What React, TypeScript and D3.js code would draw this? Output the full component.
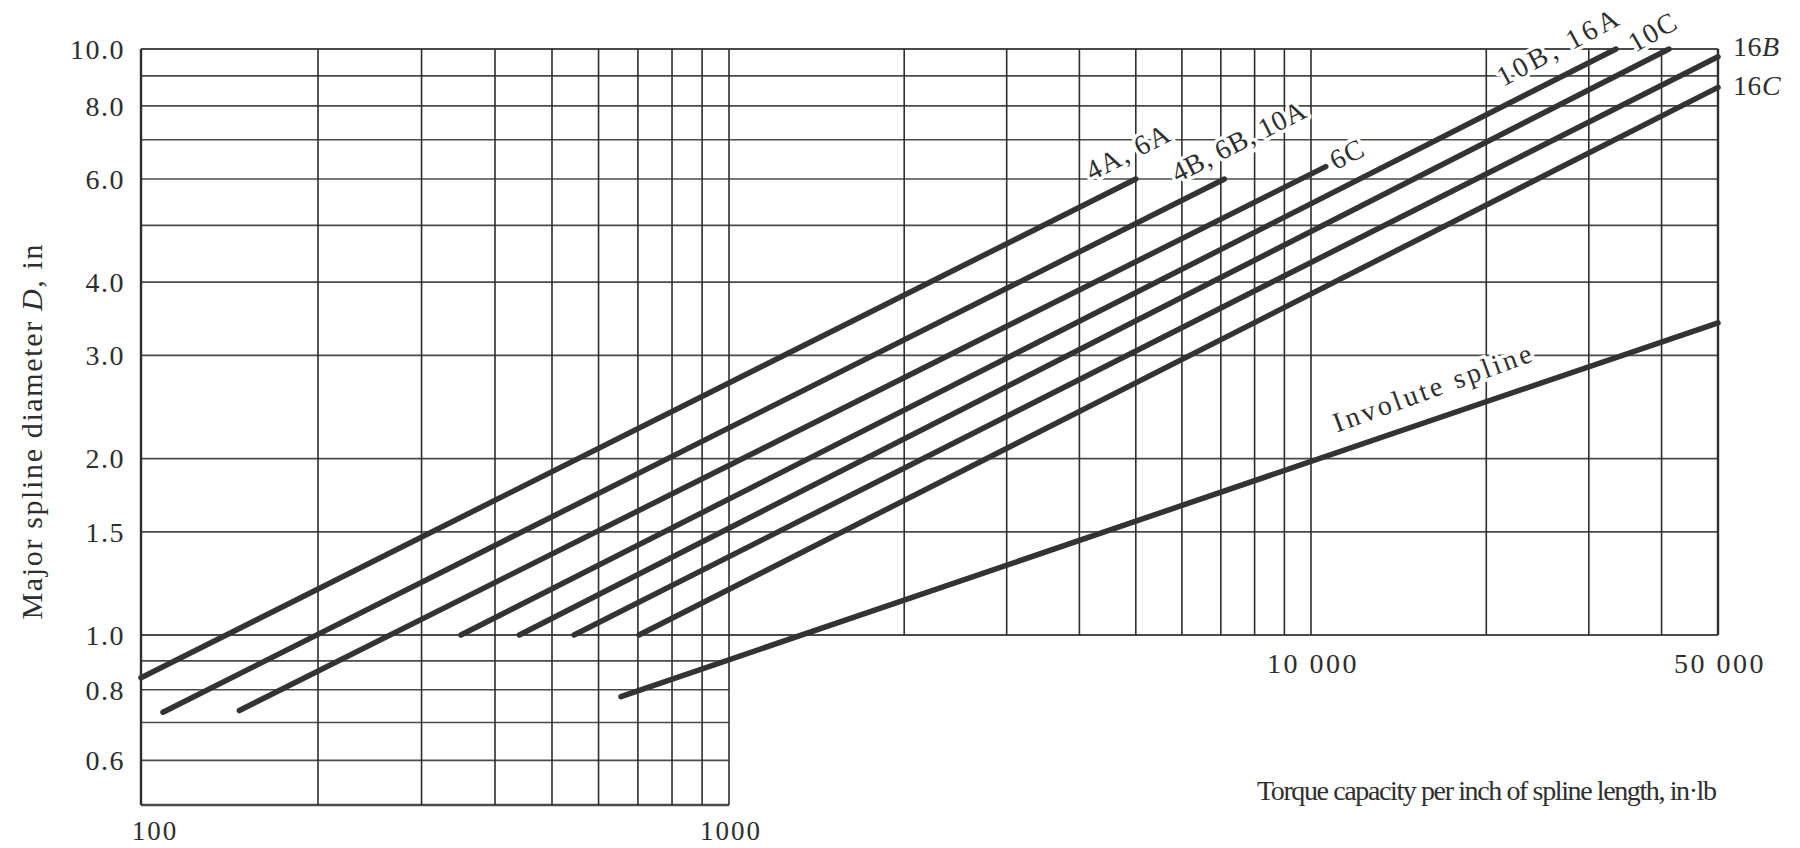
import * as d3 from "d3";

// grid values (log-log paper)
const yLowerGrid = [0.5, 0.6, 0.7, 0.8, 0.9];
const yUpperGrid = [1, 1.5, 2, 3, 4, 5, 6, 7, 8, 9, 10];
const xLowerGrid = [100, 200, 300, 400, 500, 600, 700, 800, 900, 1000];
const xUpperGrid = [2000, 3000, 4000, 5000, 6000, 7000, 8000, 9000, 10000, 20000, 30000, 40000, 50000];

const yTickLabels = [10, 8, 6, 4, 3, 2, 1.5, 1, 0.8, 0.6];
const xTicksBottom = [100, 1000];
const xTicksMid = [10000, 50000];

// spline series: straight lines on log-log paper, start and end points
const seriesNames = ["4A, 6A", "4B, 6B, 10A", "6C", "10B, 16A", "10C", "16B", "16C", "Involute spline"];
const torqueStart = [100, 109, 147, 350, 440, 545, 703, 655];
const torqueEnd = [5000, 7100, 10600, 33400, 41200, 50000, 50000, 50000];
const diamStart = [0.84, 0.73, 0.735, 1.0, 1.0, 1.0, 1.0, 0.778];
const diamEnd = [6.0, 6.0, 6.3, 10, 10, 9.7, 8.6, 3.41];

const W = 1800;
const H = 848;
const ink = "#2e2e2e";
const gridInk = "#4a4a46";
const font = "'Liberation Serif', 'DejaVu Serif', serif";

export default function App() {
  // the printed paper's decades are not all the same length, so the scales are piecewise
  const x = d3.scaleLog().domain([100, 1000, 10000, 50000]).range([141, 729, 1311, 1718]);
  const y = d3.scaleLog().domain([0.5, 1, 10]).range([805, 635, 49]);

  const line = d3.line<[number, number]>()
    .x(d => x(d[0]))
    .y(d => y(d[1]));

  const series = seriesNames.map((name, i) => ({
    name,
    pts: [[torqueStart[i], diamStart[i]], [torqueEnd[i], diamEnd[i]]] as [number, number][],
  }));

  // label placement relative to each line's end (px offsets, angle, spacing)
  const labelPos: { dx: number; dy: number; rot: number; ls: number; italic?: boolean }[] = [
    { dx: -44, dy: 2, rot: -27, ls: 1.5 },
    { dx: -47, dy: 4, rot: -27, ls: 0.5 },
    { dx: 10, dy: 4, rot: -27, ls: 1.5 },
    { dx: -113, dy: 38, rot: -28, ls: 3.5 },
    { dx: -34, dy: 4, rot: -30, ls: 2 },
    { dx: 15, dy: -1, rot: 0, ls: 0.5, italic: true },
    { dx: 15, dy: 8, rot: 0, ls: 0.5, italic: true },
  ];

  const halo = { stroke: "#fff", strokeWidth: 7, paintOrder: "stroke" as const, strokeLinejoin: "round" as const };

  // involute label sits above the line near 11 000
  const invT = 11000;
  const ix = x(invT) + 2;
  const iy = (d3.interpolateNumber(y(series[7].pts[0][1]), y(series[7].pts[1][1]))(
    (ix - x(series[7].pts[0][0])) / (x(series[7].pts[1][0]) - x(series[7].pts[0][0])))) - 20;

  return (
    <svg width={W} height={H} style={{ position: "absolute", left: 0, top: 0, background: "#fff" }}
      fontFamily={font}>
      <rect width={W} height={H} fill="#fff" />

      {/* horizontal grid */}
      {yLowerGrid.map(v => (
        <line key={"hl" + v} x1={x(100)} x2={x(1000)} y1={y(v)} y2={y(v)}
          stroke={gridInk} strokeWidth={v === 0.5 ? 2.4 : 1.7} />
      ))}
      {yUpperGrid.map(v => (
        <line key={"hu" + v} x1={x(100)} x2={x(50000)} y1={y(v)} y2={y(v)}
          stroke={gridInk} strokeWidth={v === 10 || v === 1 ? 2.2 : 1.7} />
      ))}

      {/* vertical grid */}
      {xLowerGrid.map(v => (
        <line key={"vl" + v} x1={x(v)} x2={x(v)} y1={y(0.5)} y2={y(10)}
          stroke={ink} strokeWidth={v === 100 ? 2.4 : 1.6} />
      ))}
      {xUpperGrid.map(v => (
        <line key={"vu" + v} x1={x(v)} x2={x(v)} y1={y(1)} y2={y(10)}
          stroke={ink} strokeWidth={v === 50000 ? 2.4 : 1.6} />
      ))}

      {/* spline lines */}
      {series.map(s => (
        <path key={s.name} d={line(s.pts) ?? ""} fill="none" stroke="#333"
          strokeWidth={5.5} strokeLinecap="round" />
      ))}

      {/* series labels */}
      {series.slice(0, 7).map((s, i) => {
        const p = labelPos[i];
        const ex = x(s.pts[1][0]) + p.dx;
        const ey = y(s.pts[1][1]) + p.dy;
        const m = s.name.match(/^(\d+)([A-Z])$/);
        return (
          <text key={"lab" + s.name} x={ex} y={ey} fontSize={28} fill={ink} letterSpacing={p.ls}
            transform={`rotate(${p.rot},${ex},${ey})`} {...halo}>
            {p.italic && m ? (<>{m[1]}<tspan fontStyle="italic">{m[2]}</tspan></>) : s.name}
          </text>
        );
      })}
      <text x={ix} y={iy} fontSize={28} fill={ink} letterSpacing={3}
        transform={`rotate(-20,${ix},${iy})`} {...halo}>
        Involute spline
      </text>

      {/* y tick labels */}
      {yTickLabels.map(v => (
        <text key={"yt" + v} x={125} y={y(v)} dy="0.35em" textAnchor="end" fontSize={28}
          fill={ink} letterSpacing={1.5}>
          {d3.format(".1f")(v)}
        </text>
      ))}

      {/* x tick labels */}
      {xTicksBottom.map(v => (
        <text key={"xb" + v} x={x(v) + (v === 100 ? 14 : 2)} y={y(0.5) + 35} textAnchor="middle"
          fontSize={27} fill={ink} letterSpacing={2}>
          {String(v)}
        </text>
      ))}
      {xTicksMid.map(v => (
        <text key={"xm" + v} x={x(v) + 2} y={y(1) + 38} textAnchor="middle" fontSize={28}
          fill={ink} letterSpacing={2.5}>
          {d3.format(",")(v).replace(",", " ")}
        </text>
      ))}

      {/* axis titles */}
      <text transform="translate(42,432) rotate(-90)" textAnchor="middle" fontSize={30} fill={ink}
        textLength={375} lengthAdjust="spacing">
        Major spline diameter <tspan fontStyle="italic">D</tspan>, in
      </text>
      <text x={1257} y={800} fontSize={28} fill={ink} textLength={460} lengthAdjust="spacing">
        Torque capacity per inch of spline length, in·lb
      </text>
    </svg>
  );
}
